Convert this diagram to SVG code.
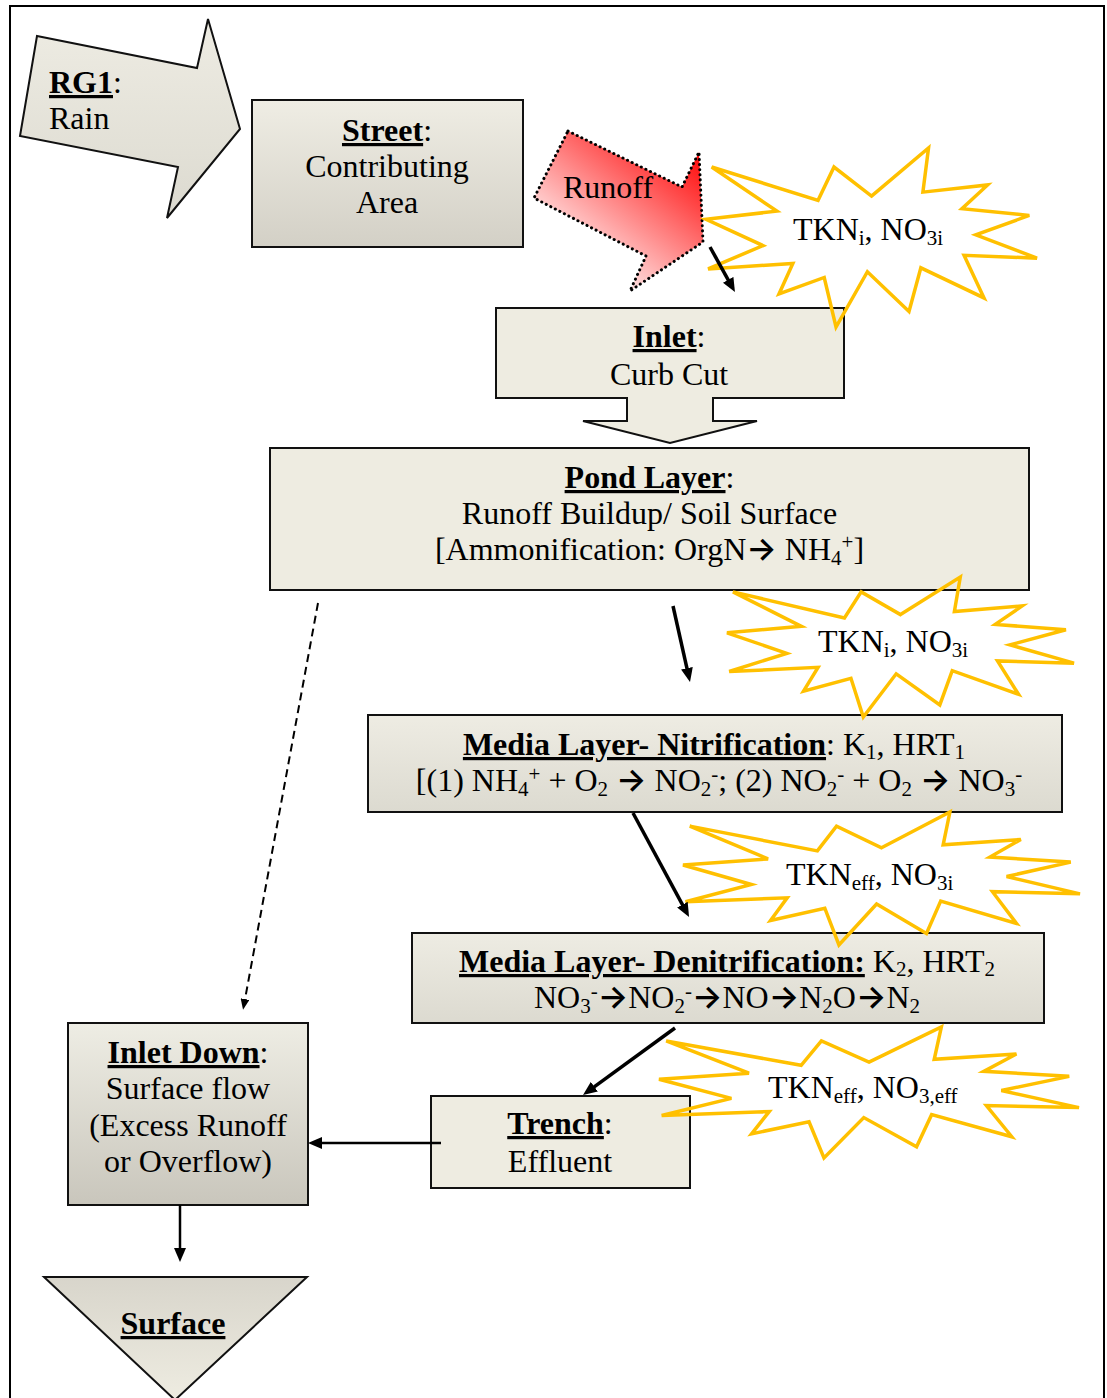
<svg xmlns="http://www.w3.org/2000/svg" xmlns:xlink="http://www.w3.org/1999/xlink" width="1107" height="1398" viewBox="0 0 1107 1398">
<style>
text{font-family:"Liberation Serif","Times New Roman",serif;font-size:32px;fill:#000}
.c{text-anchor:middle}
.bu{font-weight:bold;text-decoration:underline;text-decoration-thickness:3px}
.sb{font-size:21px}
.ar{font-family:Inter,"DejaVu Sans",sans-serif;font-weight:600;font-size:32px}
.box{stroke:#111;stroke-width:2}
.flat{fill:#EEECE1}
.star{fill:none;stroke:#FFC000;stroke-width:3.5;stroke-linejoin:miter}
.con{stroke:#000;fill:none}
</style>
<defs>
<linearGradient id="gTan" x1="0" y1="0" x2="0" y2="1"><stop offset="0" stop-color="#EFEDE4"/><stop offset="1" stop-color="#D3D0C6"/></linearGradient>
<linearGradient id="gTan2" x1="0" y1="0" x2="0" y2="1"><stop offset="0" stop-color="#EEEDE4"/><stop offset="1" stop-color="#C9C6BC"/></linearGradient>
<linearGradient id="gTanL" x1="0" y1="0" x2="0" y2="1"><stop offset="0" stop-color="#EEECE3"/><stop offset="1" stop-color="#DCDAD0"/></linearGradient>
<linearGradient id="gTanUp" x1="0" y1="0" x2="0" y2="1"><stop offset="0" stop-color="#D8D5CB"/><stop offset="1" stop-color="#EEECE1"/></linearGradient>
<linearGradient id="gRed" gradientUnits="userSpaceOnUse" x1="705" y1="148" x2="595" y2="290"><stop offset="0" stop-color="#FF0000"/><stop offset="0.3" stop-color="#FF4A4A"/><stop offset="1" stop-color="#FFFFFF"/></linearGradient>
<path id="star" class="star" vector-effect="non-scaling-stroke" d="M500,268.5 L672.3,0 L655.3,246.5 L850.9,206.3 L773.2,338.7 L976.7,376.7 L815.1,485 L1000,615.3 L779.5,599.2 L840,837.7 L649.1,669.3 L613.3,913.7 L487.6,691.4 L392.8,1000 L357.2,723.3 L220.5,815.6 L262.4,645.2 L6.3,675.3 L172.3,545.1 L0,398.8 L214.2,352.6 L17.1,106.3 L338.5,292.6 L386.7,106.3 Z"/>
<marker id="ah" viewBox="0 0 14 12" refX="4" refY="6" markerWidth="14" markerHeight="12" markerUnits="userSpaceOnUse" orient="auto"><path d="M0,0 L14,6 L0,12 z" fill="#000"/></marker>
<marker id="ahs" viewBox="0 0 11 9" refX="3" refY="4.5" markerWidth="11" markerHeight="9" markerUnits="userSpaceOnUse" orient="auto"><path d="M0,0 L11,4.5 L0,9 z" fill="#000"/></marker>
</defs>

<rect x="10" y="6" width="1094" height="1400" fill="#fff" stroke="#000" stroke-width="2"/>

<g id="node-rg1">
<polygon class="box" fill="url(#gTanL)" points="37,36 197,68 208,19 240,129 167,218 178,167 20,136"/>
<text x="49" y="93"><tspan class="bu">RG1</tspan>:</text>
<text x="49" y="129">Rain</text>
</g>

<g id="node-street">
<rect class="box" x="252" y="100" width="271" height="147" fill="url(#gTan)"/>
<text class="c" x="387" y="141"><tspan class="bu">Street</tspan>:</text>
<text class="c" x="387" y="177">Contributing</text>
<text class="c" x="387" y="213">Area</text>
</g>

<g id="node-runoff">
<polygon points="568,131 682,187 699,152 703,242 630,291 646,256 534,198" fill="url(#gRed)" stroke="#000" stroke-width="3" stroke-dasharray="0.1 5" stroke-linecap="round"/>
<text x="563" y="198">Runoff</text>
</g>

<g id="node-inlet">
<polygon class="box flat" points="496,308 844,308 844,398 713,398 713,421 757,421 670,443 583,421 627,421 627,398 496,398"/>
<text class="c" x="669" y="347"><tspan class="bu">Inlet</tspan>:</text>
<text class="c" x="669" y="385">Curb Cut</text>
</g>

<g id="node-pond">
<rect class="box flat" x="270" y="448" width="759" height="142"/>
<text class="c" x="649.5" y="488"><tspan class="bu">Pond Layer</tspan>:</text>
<text class="c" x="649.5" y="524">Runoff Buildup/ Soil Surface</text>
<text class="c" x="649.5" y="560">[Ammonification: OrgN<tspan class="ar">→</tspan> NH<tspan class="sb" baseline-shift="-5">4</tspan><tspan class="sb" baseline-shift="11">+</tspan>]</text>
</g>

<g id="node-nitrification">
<rect class="box" x="368" y="715" width="694" height="97" fill="url(#gTanL)"/>
<text class="c" x="714" y="755"><tspan class="bu">Media Layer- Nitrification</tspan>: K<tspan class="sb" baseline-shift="-4">1</tspan>, HRT<tspan class="sb" baseline-shift="-4">1</tspan></text>
<text class="c" x="719" y="791">[(1) NH<tspan class="sb" baseline-shift="-5">4</tspan><tspan class="sb" baseline-shift="10">+</tspan> + O<tspan class="sb" baseline-shift="-5">2</tspan> <tspan class="ar">→</tspan> NO<tspan class="sb" baseline-shift="-5">2</tspan><tspan class="sb" baseline-shift="10">-</tspan>; (2) NO<tspan class="sb" baseline-shift="-5">2</tspan><tspan class="sb" baseline-shift="10">-</tspan> + O<tspan class="sb" baseline-shift="-5">2</tspan> <tspan class="ar">→</tspan> NO<tspan class="sb" baseline-shift="-5">3</tspan><tspan class="sb" baseline-shift="10">-</tspan></text>
</g>

<g id="node-denitrification">
<rect class="box" x="412" y="933" width="632" height="90" fill="url(#gTanL)"/>
<text class="c" x="727" y="972"><tspan class="bu">Media Layer- Denitrification:</tspan> K<tspan class="sb" baseline-shift="-4">2</tspan>, HRT<tspan class="sb" baseline-shift="-4">2</tspan></text>
<text class="c" x="727" y="1008">NO<tspan class="sb" baseline-shift="-5">3</tspan><tspan class="sb" baseline-shift="10">-</tspan><tspan class="ar">→</tspan>NO<tspan class="sb" baseline-shift="-5">2</tspan><tspan class="sb" baseline-shift="10">-</tspan><tspan class="ar">→</tspan>NO<tspan class="ar">→</tspan>N<tspan class="sb" baseline-shift="-5">2</tspan>O<tspan class="ar">→</tspan>N<tspan class="sb" baseline-shift="-5">2</tspan></text>
</g>

<g id="node-trench">
<rect class="box flat" x="431" y="1096" width="259" height="92"/>
<text class="c" x="560" y="1134"><tspan class="bu">Trench</tspan>:</text>
<text class="c" x="560" y="1172">Effluent</text>
</g>

<g id="node-inlet-down">
<rect class="box" x="68" y="1023" width="240" height="182" fill="url(#gTan2)"/>
<text class="c" x="188" y="1063"><tspan class="bu">Inlet Down</tspan>:</text>
<text class="c" x="188" y="1099">Surface flow</text>
<text class="c" x="188" y="1136">(Excess Runoff</text>
<text class="c" x="188" y="1172">or Overflow)</text>
</g>

<g id="node-surface">
<polygon class="box" fill="url(#gTanUp)" points="44,1277 307,1277 175,1400"/>
<text class="c" x="173" y="1334"><tspan class="bu">Surface</tspan></text>
</g>

<g id="node-star1">
<use xlink:href="#star" transform="translate(706,148) scale(0.331,0.179)"/>
<text x="793" y="240">TKN<tspan class="sb" baseline-shift="-5">i</tspan>, NO<tspan class="sb" baseline-shift="-5">3i</tspan></text>
</g>
<g id="node-star2">
<use xlink:href="#star" transform="translate(727,577) scale(0.347,0.140)"/>
<text x="818" y="652">TKN<tspan class="sb" baseline-shift="-5">i</tspan>, NO<tspan class="sb" baseline-shift="-5">3i</tspan></text>
</g>
<g id="node-star3">
<use xlink:href="#star" transform="translate(683,812) scale(0.397,0.133)"/>
<text x="786" y="885">TKN<tspan class="sb" baseline-shift="-5">eff</tspan>, NO<tspan class="sb" baseline-shift="-5">3i</tspan></text>
</g>
<g id="node-star4">
<use xlink:href="#star" transform="translate(659,1027) scale(0.420,0.131)"/>
<text x="768" y="1098">TKN<tspan class="sb" baseline-shift="-5">eff</tspan>, NO<tspan class="sb" baseline-shift="-5">3,eff</tspan></text>
</g>

<g id="connectors">
<line class="con" x1="710" y1="247" x2="730.1" y2="283.3" stroke-width="3.5" marker-end="url(#ah)"/>
<line class="con" x1="673" y1="606" x2="687.8" y2="672.2" stroke-width="3.5" marker-end="url(#ah)"/>
<line class="con" x1="633" y1="813" x2="684.3" y2="908.2" stroke-width="3.5" marker-end="url(#ah)"/>
<line class="con" x1="675" y1="1028" x2="591.1" y2="1089.1" stroke-width="3.5" marker-end="url(#ah)"/>
<line class="con" x1="441" y1="1143" x2="318" y2="1143" stroke-width="2.5" marker-end="url(#ah)"/>
<line class="con" x1="180" y1="1205" x2="180" y2="1252" stroke-width="2.5" marker-end="url(#ah)"/>
<line class="con" x1="318" y1="603" x2="244.5" y2="1002" stroke-width="2" stroke-dasharray="8 5" marker-end="url(#ahs)"/>
</g>
</svg>
